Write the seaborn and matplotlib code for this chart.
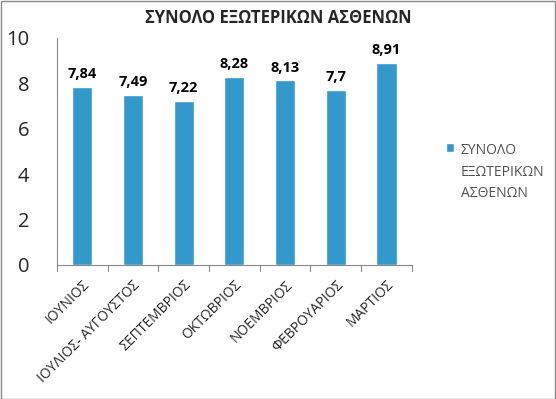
import matplotlib
matplotlib.use("Agg")
import matplotlib.pyplot as plt
import seaborn as sns
import pandas as pd

months = ["ΙΟΥΝΙΟΣ", "ΙΟΥΛΙΟΣ- ΑΥΓΟΥΣΤΟΣ", "ΣΕΠΤΕΜΒΡΙΟΣ", "ΟΚΤΩΒΡΙΟΣ",
          "ΝΟΕΜΒΡΙΟΣ", "ΦΕΒΡΟΥΑΡΙΟΣ", "ΜΑΡΤΙΟΣ"]
values = [7.84, 7.49, 7.22, 8.28, 8.13, 7.7, 8.91]
series_name = "ΣΥΝΟΛΟ ΕΞΩΤΕΡΙΚΩΝ ΑΣΘΕΝΩΝ"
y_ticks = [0, 2, 4, 6, 8, 10]

sns.set_style("white")
plt.rcParams['font.family'] = ['Open Sans', 'DejaVu Sans']

df = pd.DataFrame({"month": months, "value": values})

fig = plt.figure(figsize=(5.56, 3.99), dpi=100)
ax = fig.add_axes([0.1025, 0.336, 0.638, 0.569])

sns.barplot(data=df, x="month", y="value", color="#3399CC", saturation=1,
            width=0.4, ax=ax, label="ΣΥΝΟΛΟ\nΕΞΩΤΕΡΙΚΩΝ\nΑΣΘΕΝΩΝ")

for i, v in enumerate(values):
    ax.text(i, v + 0.25, f"{v:g}".replace(".", ","), ha="center", va="bottom",
            fontsize=10.5, fontweight="bold", color="black")

ax.set_ylim(0, 10)
ax.set_yticks(y_ticks)
ax.set_yticklabels([str(t) for t in y_ticks], fontsize=14.5)
ax.set_xlim(-0.5, len(months) - 0.5)
ax.set_xticks(range(len(months)))
ax.set_xticklabels(months, rotation=45, ha="right", rotation_mode="anchor", fontsize=10)
ax.tick_params(axis="x", length=0, pad=9)
ax.tick_params(axis="y", length=0, pad=20)
# boundary ticks between categories
for b in [i + 0.5 for i in range(-1, len(months))]:
    ax.plot([b, b], [0, -0.25], color="#888888", lw=0.8, clip_on=False)
ax.set_xlabel("")
ax.set_ylabel("")
for s in ["top", "right"]:
    ax.spines[s].set_visible(False)
ax.spines["left"].set_color("#888888")
ax.spines["bottom"].set_color("#888888")

fig.text(0.5, 0.955, series_name, ha="center", va="center",
         fontsize=12, fontweight="bold")

leg = ax.legend(loc="upper left", bbox_to_anchor=(1.06, 0.59), frameon=False,
                fontsize=10, handlelength=0.6, handleheight=0.6, handletextpad=0.5)
for t in leg.get_texts():
    t.set_color("#505050")
    t.set_linespacing(1.55)
for hp in leg._legend_handle_box.get_children():
    for row in hp.get_children():
        row.align = "top"

fig.patches.append(plt.Rectangle((0.001, 0.001), 0.997, 0.997, transform=fig.transFigure,
                                 fill=False, edgecolor="#888888", lw=1))

fig.savefig("out.png", dpi=100)
